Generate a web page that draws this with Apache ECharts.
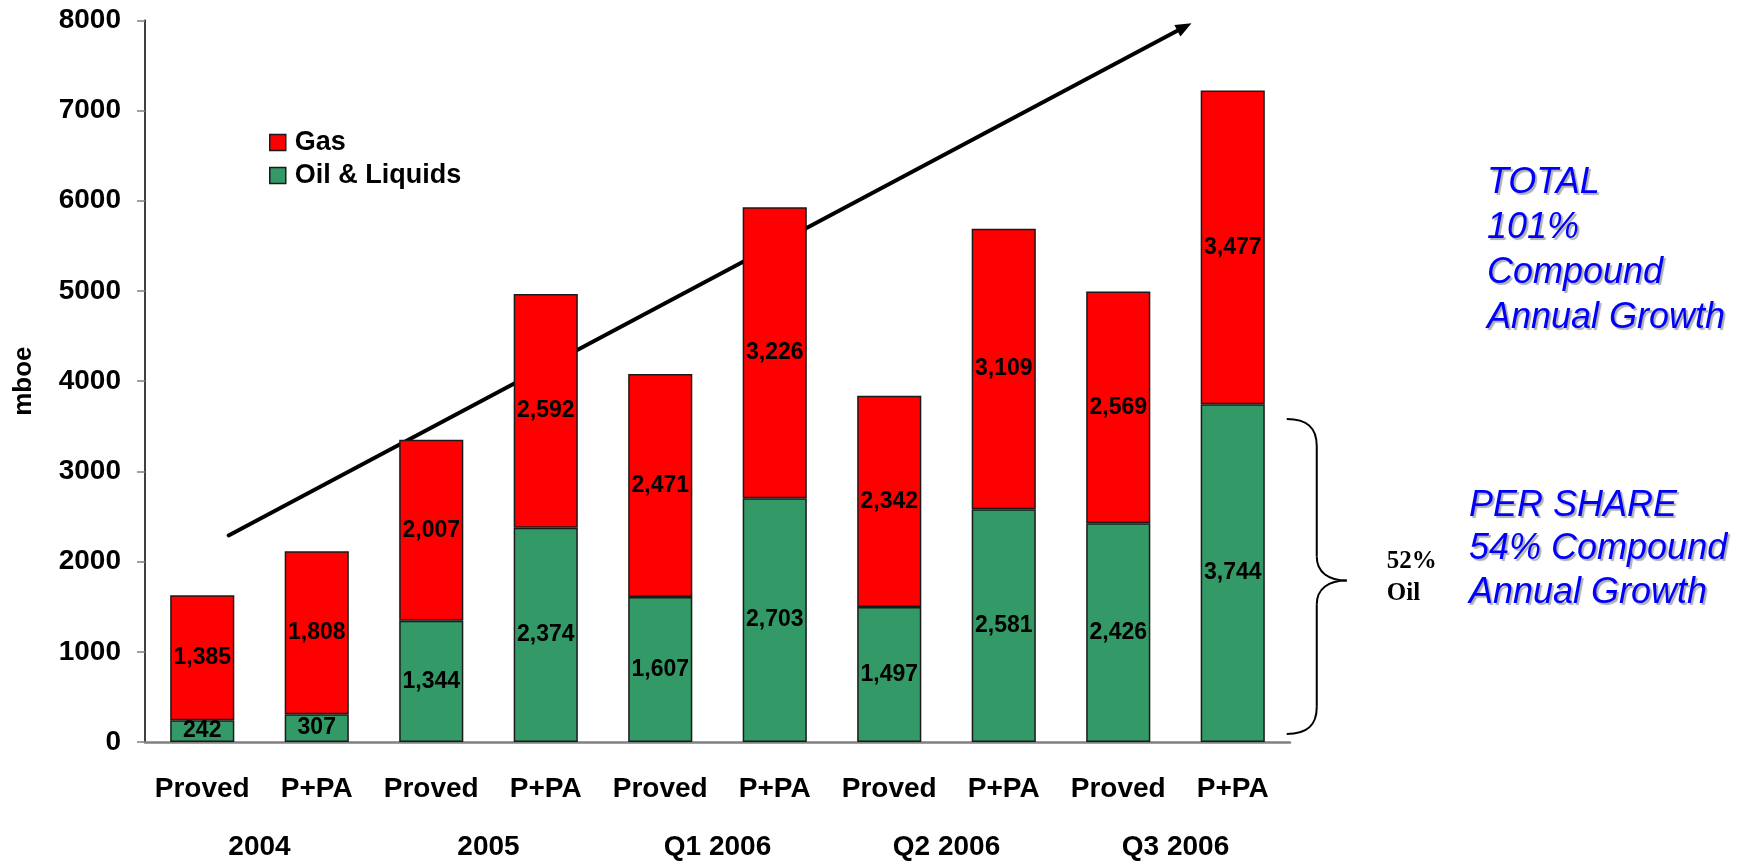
<!DOCTYPE html>
<html>
<head>
<meta charset="utf-8">
<title>Reserves growth (mboe)</title>
<script src="https://cdn.jsdelivr.net/npm/echarts@6/dist/echarts.min.js"></script>
<style>
  html, body { margin: 0; padding: 0; background: #ffffff; }
  #chart { width: 1745px; height: 861px; }
</style>
</head>
<body>
<div id="chart"></div>
<script>
// Reserve categories per reporting period
const categories = ['Proved', 'P+PA', 'Proved', 'P+PA', 'Proved', 'P+PA', 'Proved', 'P+PA', 'Proved', 'P+PA'];
const periods = ['2004', '2005', 'Q1 2006', 'Q2 2006', 'Q3 2006'];

// Reserves, mboe
const oilLiquids = [242, 307, 1344, 2374, 1607, 2703, 1497, 2581, 2426, 3744];
const gas = [1385, 1808, 2007, 2592, 2471, 3226, 2342, 3109, 2569, 3477];

// Value axis
const yMin = 0;
const yMax = 8000;
const yStep = 1000;

// Annotation text
const totalNote = ['TOTAL', '101%', 'Compound', 'Annual Growth'];
const perShareNote = ['PER SHARE', '54% Compound', 'Annual Growth'];
const oilShareNote = ['52%', 'Oil'];

const SANS = '"Liberation Sans", Arial, Helvetica, sans-serif';
const SERIF = '"Liberation Serif", "Times New Roman", serif';

const fmt = v => Number(v).toLocaleString('en-US');

const chart = echarts.init(document.getElementById('chart'), null, { renderer: 'canvas' });

const barLabel = {
  show: true,
  position: 'inside',
  color: '#000',
  fontFamily: SANS,
  fontWeight: 'bold',
  fontSize: 23,
  formatter: p => fmt(p.value)
};

const option = {
  backgroundColor: '#ffffff',
  animation: false,
  grid: { left: 145, top: 20.3, width: 1145, bottom: 117.7, containLabel: false },
  legend: {
    data: ['Gas', 'Oil & Liquids'],
    orient: 'vertical',
    left: 269,
    top: 129,
    padding: 0,
    itemWidth: 16,
    itemHeight: 16,
    itemGap: 6,
    icon: 'rect',
    selectedMode: false,
    itemStyle: { borderColor: '#1a1a1a', borderWidth: 1.5 },
    textStyle: {
      fontFamily: SANS, fontWeight: 'bold', fontSize: 27, color: '#000',
      padding: [0, 0, 0, 4]
    }
  },
  xAxis: [
    {
      type: 'category',
      data: categories,
      position: 'bottom',
      axisLine: { show: true, lineStyle: { color: '#808080', width: 2.5 } },
      axisTick: { show: false },
      axisLabel: {
        interval: 0, margin: 33, color: '#000',
        fontFamily: SANS, fontWeight: 'bold', fontSize: 28
      }
    },
    {
      type: 'category',
      data: periods,
      position: 'bottom',
      axisLine: { show: false },
      axisTick: { show: false },
      axisLabel: {
        interval: 0, margin: 91, color: '#000',
        fontFamily: SANS, fontWeight: 'bold', fontSize: 28
      }
    }
  ],
  yAxis: {
    type: 'value',
    min: yMin,
    max: yMax,
    interval: yStep,
    name: 'mboe',
    nameLocation: 'middle',
    nameRotate: 90,
    nameGap: 108,
    nameTextStyle: { fontFamily: SANS, fontWeight: 'bold', fontSize: 26, color: '#000' },
    axisLine: { show: true, lineStyle: { color: '#000', width: 1.5 } },
    axisTick: { show: true, length: 8, lineStyle: { color: '#808080', width: 1.5 } },
    splitLine: { show: false },
    axisLabel: {
      margin: 24, color: '#000',
      fontFamily: SANS, fontWeight: 'bold', fontSize: 28,
      formatter: v => String(v)
    }
  },
  series: [
    {
      name: 'Oil & Liquids',
      type: 'bar',
      stack: 'reserves',
      data: oilLiquids,
      barCategoryGap: '44%',
      itemStyle: { color: '#339966', borderColor: '#1a1a1a', borderWidth: 1.5 },
      label: barLabel
    },
    {
      name: 'Gas',
      type: 'bar',
      stack: 'reserves',
      data: gas,
      barCategoryGap: '44%',
      itemStyle: { color: '#ff0000', borderColor: '#1a1a1a', borderWidth: 1.5 },
      label: barLabel
    }
  ]
};

chart.setOption(option);

// Helpers mapping axis positions to pixels for the annotations
const catX = c => {
  const a = chart.convertToPixel({ xAxisIndex: 0 }, 0);
  const b = chart.convertToPixel({ xAxisIndex: 0 }, 1);
  return a + (b - a) * c;
};
const valY = v => chart.convertToPixel({ yAxisIndex: 0 }, v);

// Growth trend arrow
const arrowStart = [catX(0.23), valY(2290)];
const arrowEnd = [catX(8.64), valY(7968)];
const ang = Math.atan2(arrowEnd[1] - arrowStart[1], arrowEnd[0] - arrowStart[0]);
const headLen = 16, headHalf = 6.5;
const baseX = arrowEnd[0] - headLen * Math.cos(ang);
const baseY = arrowEnd[1] - headLen * Math.sin(ang);
const nx = -Math.sin(ang), ny = Math.cos(ang);

// Brace around the oil share of the last bar
const bx0 = catX(9) + 54;       // brace tips
const bx1 = bx0 + 30;           // brace spine
const bx2 = bx0 + 60;           // brace point
const bTop = valY(3580), bBot = valY(90);
const bMid = (bTop + bBot) / 2 + 4;
const braceStroke = { stroke: '#000', lineWidth: 2, fill: null };
const curve = (x1, y1, cx1, cy1, cx2, cy2, x2, y2) => ({
  type: 'bezierCurve',
  shape: { x1, y1, cpx1: cx1, cpy1: cy1, cpx2: cx2, cpy2: cy2, x2, y2 },
  style: braceStroke
});
const seg = (x1, y1, x2, y2) => ({ type: 'line', shape: { x1, y1, x2, y2 }, style: braceStroke });
const brace = [
  curve(bx0, bTop, bx0 + 20, bTop, bx1, bTop + 8, bx1, bTop + 27),
  seg(bx1, bTop + 27, bx1, bMid - 24),
  curve(bx1, bMid - 24, bx1, bMid - 8, bx1 + 12, bMid, bx2, bMid),
  curve(bx2, bMid, bx1 + 12, bMid, bx1, bMid + 8, bx1, bMid + 24),
  seg(bx1, bMid + 24, bx1, bBot - 27),
  curve(bx1, bBot - 27, bx1, bBot - 8, bx0 + 20, bBot, bx0, bBot)
];

const blueText = (lines, x, y, lh) => ({
  type: 'text',
  x: x, y: y,
  style: {
    text: lines.join('\n'),
    fill: '#0000ff',
    font: 'italic 36px ' + SANS,
    lineHeight: lh,
    textAlign: 'left',
    textVerticalAlign: 'top',
    textShadowColor: 'rgba(110,110,110,0.55)',
    textShadowOffsetX: 2,
    textShadowOffsetY: 2,
    textShadowBlur: 1
  }
});

chart.setOption({
  graphic: [
    {
      type: 'line',
      shape: { x1: arrowStart[0], y1: arrowStart[1], x2: baseX + 2 * Math.cos(ang), y2: baseY + 2 * Math.sin(ang) },
      style: { stroke: '#000', lineWidth: 4, lineCap: 'round' }
    },
    {
      type: 'polygon',
      shape: {
        points: [
          [arrowEnd[0], arrowEnd[1]],
          [baseX + nx * headHalf, baseY + ny * headHalf],
          [baseX - nx * headHalf, baseY - ny * headHalf]
        ]
      },
      style: { fill: '#000' }
    }
  ].concat(brace, [
    {
      type: 'text',
      x: bx0 + 100, y: bMid - 35,
      style: {
        text: oilShareNote.join('\n'),
        fill: '#000',
        font: 'bold 25px ' + SERIF,
        lineHeight: 32,
        textAlign: 'left',
        textVerticalAlign: 'top'
      }
    },
    blueText(totalNote, 1487, 160, 45),
    blueText(perShareNote, 1469, 484, 43.5)
  ])
});
</script>
</body>
</html>
